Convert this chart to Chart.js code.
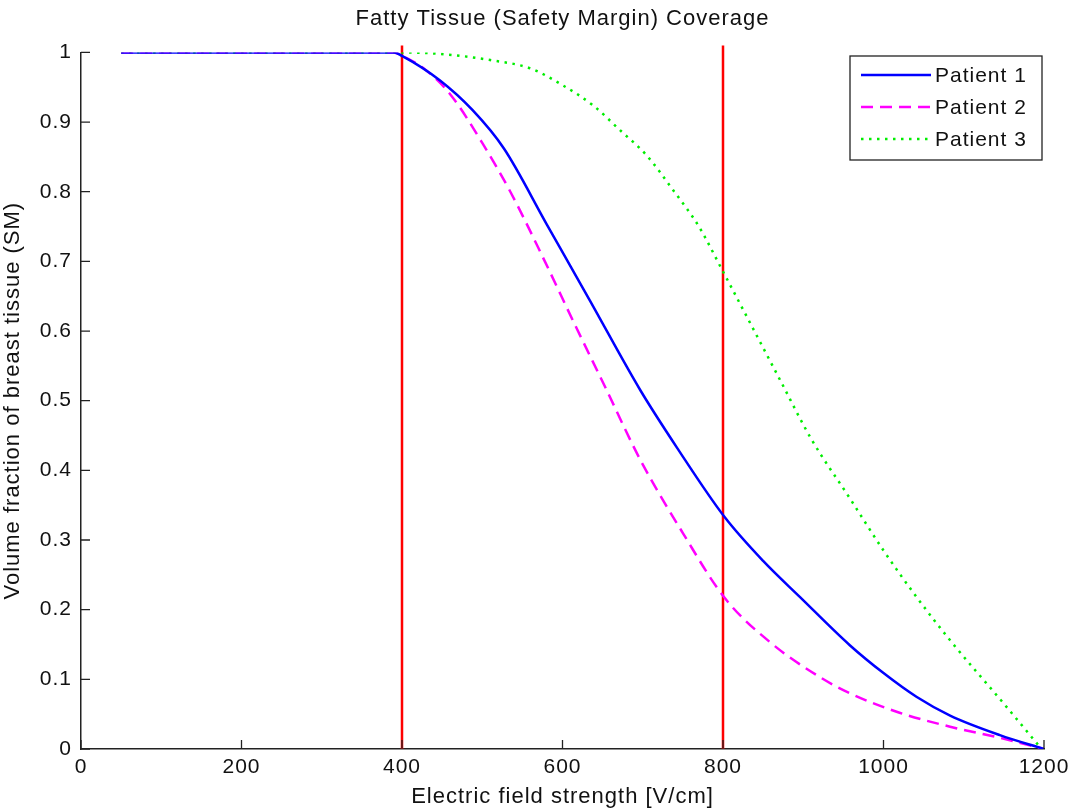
<!DOCTYPE html>
<html>
<head>
<meta charset="utf-8">
<script src="https://cdn.jsdelivr.net/npm/chart.js@4.4.1/dist/chart.umd.min.js"></script>
<style>
  html, body { margin: 0; padding: 0; background: #fff; }
  #wrap { width: 1079px; height: 812px; }
</style>
</head>
<body>
<div id="wrap"><canvas id="c" width="1079" height="812"></canvas></div>
<script>
// values
var p1x = [50, 200, 390, 400, 447, 488, 527, 580, 634, 697, 743, 802, 850, 896, 958, 1000, 1041, 1083, 1145, 1200]
var p1y = [1, 1, 1, 0.995, 0.96, 0.917, 0.862, 0.754, 0.644, 0.515, 0.432, 0.333, 0.27, 0.218, 0.149, 0.109, 0.075, 0.048, 0.02, 0]

var p2x = [50, 200, 390, 400, 426, 460, 500, 535, 578, 613, 653, 697, 750, 802, 860, 921, 958, 1020, 1083, 1145, 1200]
var p2y = [1, 1, 1, 0.995, 0.978, 0.94, 0.87, 0.8, 0.7, 0.615, 0.52, 0.415, 0.31, 0.217, 0.152, 0.103, 0.08, 0.052, 0.032, 0.016, 0]

var p3x = [50, 200, 400, 456, 510, 560, 600, 638, 672, 705, 738, 770, 797, 871, 910, 958, 1000, 1040, 1083, 1150, 1197]
var p3y = [1, 1, 1, 0.997, 0.989, 0.977, 0.953, 0.924, 0.888, 0.852, 0.802, 0.75, 0.692, 0.53, 0.445, 0.36, 0.285, 0.22, 0.156, 0.065, 0]

var markerX = [400, 800]
var seriesNames = ['Patient 1', 'Patient 2', 'Patient 3']
var xTicks = [0, 200, 400, 600, 800, 1000, 1200]
var yTicks = [0, 0.1, 0.2, 0.3, 0.4, 0.5, 0.6, 0.7, 0.8, 0.9, 1]

function pts(xs, ys){
  return xs.map(function(x, i){ return { x: x, y: ys[i] } })
}

var FONT = '"Liberation Sans", Arial, sans-serif'

var datasets = [
  { label: seriesNames[0], data: pts(p1x, p1y), borderColor: '#0000ff', borderWidth: 2.5 },
  { label: seriesNames[1], data: pts(p2x, p2y), borderColor: '#ff00ff', borderWidth: 2.5, borderDash: [12, 7] },
  { label: seriesNames[2], data: pts(p3x, p3y), borderColor: '#00ee00', borderWidth: 2.5, borderDash: [2.5, 5.5] }
]
markerX.forEach(function(x){
  datasets.push({ label: '', data: [{ x: x, y: 0 }, { x: x, y: 1.01 }], borderColor: '#ff0000', borderWidth: 2.5, clip: false })
})
datasets.forEach(function(d){
  d.showLine = true
  d.pointRadius = 0
  d.fill = false
  d.cubicInterpolationMode = 'monotone'
  d.backgroundColor = d.borderColor
})

// a bit of tracking, the reference text is wide
var spacing = {
  id: 'spacing',
  beforeDraw: function(chart){ chart.ctx.letterSpacing = '1px' }
}

// inward tick marks, like matlab
var inwardTicks = {
  id: 'inwardTicks',
  afterDatasetsDraw: function(chart){
    var ctx = chart.ctx, a = chart.chartArea
    var xs = chart.scales.x, ys = chart.scales.y
    ctx.save()
    ctx.strokeStyle = '#222'
    ctx.lineWidth = 1.3
    ctx.beginPath()
    xTicks.forEach(function(v){
      var px = xs.getPixelForValue(v)
      ctx.moveTo(px, a.bottom); ctx.lineTo(px, a.bottom - 9)
    })
    yTicks.forEach(function(v){
      var py = ys.getPixelForValue(v)
      ctx.moveTo(a.left, py); ctx.lineTo(a.left + 9, py)
    })
    ctx.stroke()
    ctx.restore()
  }
}

// legend box drawn inside plot, top right
var boxLegend = {
  id: 'boxLegend',
  afterDraw: function(chart){
    var ctx = chart.ctx
    var left = 850, top = 56, w = 192, h = 104
    ctx.save()
    ctx.fillStyle = '#fff'
    ctx.fillRect(left, top, w, h)
    ctx.strokeStyle = '#222'
    ctx.lineWidth = 1.3
    ctx.strokeRect(left, top, w, h)
    ctx.font = '21px ' + FONT
    ctx.textBaseline = 'middle'
    for (var i = 0; i < 3; i++){
      var ds = chart.data.datasets[i]
      var y = top + 19 + i * 32
      ctx.strokeStyle = ds.borderColor
      ctx.lineWidth = ds.borderWidth
      ctx.setLineDash(ds.borderDash || [])
      ctx.beginPath()
      ctx.moveTo(861, y); ctx.lineTo(931, y)
      ctx.stroke()
      ctx.setLineDash([])
      ctx.fillStyle = '#111'
      ctx.fillText(ds.label, 935, y + 1)
    }
    ctx.restore()
  }
}

new Chart(document.getElementById('c'), {
  type: 'scatter',
  data: { datasets: datasets },
  plugins: [spacing, inwardTicks, boxLegend],
  options: {
    responsive: false,
    animation: false,
    layout: { padding: { left: 0, right: 35, top: 0, bottom: 0 } },
    plugins: {
      legend: { display: false },
      tooltip: { enabled: false },
      title: {
        display: true,
        fullSize: false,
        text: 'Fatty Tissue (Safety Margin) Coverage',
        color: '#111',
        font: { family: FONT, size: 22, weight: 'normal' },
        padding: { top: 6, bottom: 20 }
      }
    },
    scales: {
      x: {
        type: 'linear',
        min: 0, max: 1200,
        afterBuildTicks: function(s){ s.ticks = xTicks.map(function(v){ return { value: v } }) },
        afterFit: function(s){ s.height = 63 },
        ticks: {
          color: '#111', font: { family: FONT, size: 21 }, padding: 6, maxRotation: 0,
          callback: function(v){ return String(v) }
        },
        grid: { display: false, drawTicks: false },
        border: { display: true, color: '#222', width: 1.5 },
        title: { display: true, text: 'Electric field strength [V/cm]', color: '#111', font: { family: FONT, size: 22 }, padding: { top: 0, bottom: 2 } }
      },
      y: {
        type: 'linear',
        min: 0, max: 1,
        afterBuildTicks: function(s){ s.ticks = yTicks.map(function(v){ return { value: v } }) },
        afterFit: function(s){ s.width = 81 },
        ticks: {
          color: '#111', font: { family: FONT, size: 21 }, padding: 9,
          callback: function(v){ return String(Math.round(v * 10) / 10) }
        },
        grid: { display: false, drawTicks: false },
        border: { display: true, color: '#222', width: 1.5 },
        title: { display: true, text: 'Volume fraction of breast tissue (SM)', color: '#111', font: { family: FONT, size: 22 }, padding: { top: 0, bottom: 0 } }
      }
    }
  }
})
</script>
</body>
</html>
